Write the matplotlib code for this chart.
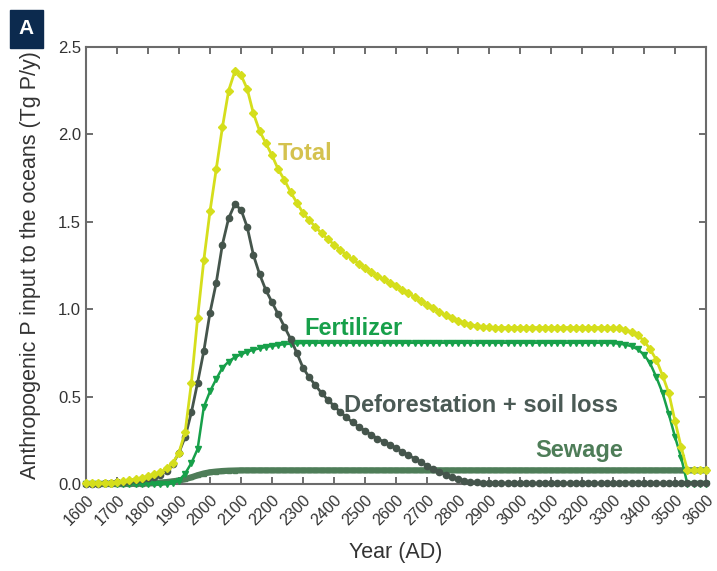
import numpy as np
import matplotlib
matplotlib.use("Agg")
import matplotlib.pyplot as plt
from matplotlib.patches import Rectangle

# ---------------- data (Tg P / y), 20-year steps 1600..3600 ----------------
years = np.arange(1600, 3601, 20)

total = [
    0.005, 0.005, 0.005, 0.006, 0.008, 0.010, 0.015, 0.022, 0.028, 0.035,   # 1600-1780
    0.045, 0.055, 0.068, 0.090, 0.120, 0.180, 0.300, 0.580, 0.950, 1.280,   # 1800-1980
    1.560, 1.800, 2.040, 2.250, 2.360, 2.340, 2.260, 2.120, 2.020, 1.950,   # 2000-2180
    1.880, 1.800, 1.740, 1.670, 1.610, 1.550, 1.510, 1.470, 1.435, 1.400,   # 2200-2380
    1.370, 1.340, 1.310, 1.285, 1.260, 1.235, 1.210, 1.190, 1.170, 1.150,   # 2400-2580
    1.130, 1.110, 1.090, 1.070, 1.045, 1.025, 1.005, 0.985, 0.965, 0.950,   # 2600-2780
    0.935, 0.922, 0.912, 0.905, 0.900, 0.897, 0.895, 0.895, 0.895, 0.895,   # 2800-2980
    0.895, 0.895, 0.895, 0.895, 0.895, 0.895, 0.895, 0.895, 0.895, 0.895,   # 3000-3180
    0.895, 0.895, 0.895, 0.895, 0.895, 0.893, 0.890, 0.882, 0.870, 0.850,   # 3200-3380
    0.820, 0.770, 0.710, 0.620, 0.520, 0.360, 0.210, 0.080, 0.078, 0.078,   # 3400-3580
    0.078,                                                                   # 3600
]

deforestation = [
    0.000, 0.000, 0.002, 0.004, 0.006, 0.010, 0.014, 0.020, 0.025, 0.030,
    0.035, 0.040, 0.050, 0.075, 0.115, 0.180, 0.270, 0.410, 0.580, 0.760,
    0.980, 1.150, 1.370, 1.520, 1.600, 1.570, 1.470, 1.310, 1.200, 1.110,
    1.040, 0.970, 0.900, 0.830, 0.750, 0.665, 0.610, 0.565, 0.520, 0.482,
    0.447, 0.412, 0.382, 0.352, 0.327, 0.305, 0.282, 0.260, 0.242, 0.225,
    0.205, 0.185, 0.165, 0.145, 0.125, 0.105, 0.085, 0.068, 0.052, 0.038,
    0.027, 0.019, 0.013, 0.009, 0.007, 0.005, 0.005, 0.005, 0.004, 0.004,
    0.004, 0.004, 0.004, 0.004, 0.004, 0.004, 0.004, 0.004, 0.004, 0.004,
    0.004, 0.004, 0.004, 0.004, 0.004, 0.004, 0.004, 0.004, 0.004, 0.004,
    0.004, 0.004, 0.004, 0.004, 0.004, 0.004, 0.004, 0.004, 0.004, 0.004,
    0.004,
]

fertilizer = [
    0.000, 0.000, 0.000, 0.000, 0.000, 0.000, 0.000, 0.000, 0.000, 0.000,
    0.000, 0.000, 0.000, 0.000, 0.005, 0.020, 0.060, 0.120, 0.200, 0.440,
    0.530, 0.600, 0.665, 0.700, 0.725, 0.742, 0.756, 0.768, 0.776, 0.784,
    0.790, 0.795, 0.800, 0.803, 0.805, 0.807, 0.808, 0.808, 0.808, 0.808,
    0.808, 0.808, 0.808, 0.808, 0.808, 0.808, 0.808, 0.808, 0.808, 0.808,
    0.808, 0.808, 0.808, 0.808, 0.808, 0.808, 0.808, 0.808, 0.808, 0.808,
    0.808, 0.808, 0.808, 0.808, 0.808, 0.808, 0.808, 0.808, 0.808, 0.808,
    0.808, 0.808, 0.808, 0.808, 0.808, 0.808, 0.808, 0.808, 0.808, 0.808,
    0.808, 0.808, 0.808, 0.808, 0.808, 0.806, 0.803, 0.797, 0.788, 0.770,
    0.740, 0.690, 0.610, 0.520, 0.400, 0.270, 0.150, 0.000, 0.000, 0.000,
    0.000,
]

sewage = [
    0.000, 0.000, 0.000, 0.000, 0.000, 0.000, 0.000, 0.001, 0.001, 0.002,
    0.003, 0.005, 0.008, 0.011, 0.015, 0.020, 0.028, 0.038, 0.050, 0.060,
    0.067, 0.071, 0.074, 0.076, 0.077, 0.078, 0.078, 0.078, 0.078, 0.078,
    0.078, 0.078, 0.078, 0.078, 0.078, 0.078, 0.078, 0.078, 0.078, 0.078,
    0.078, 0.078, 0.078, 0.078, 0.078, 0.078, 0.078, 0.078, 0.078, 0.078,
    0.078, 0.078, 0.078, 0.078, 0.078, 0.078, 0.078, 0.078, 0.078, 0.078,
    0.078, 0.078, 0.078, 0.078, 0.078, 0.078, 0.078, 0.078, 0.078, 0.078,
    0.078, 0.078, 0.078, 0.078, 0.078, 0.078, 0.078, 0.078, 0.078, 0.078,
    0.078, 0.078, 0.078, 0.078, 0.078, 0.078, 0.078, 0.078, 0.078, 0.078,
    0.078, 0.078, 0.078, 0.078, 0.078, 0.078, 0.078, 0.078, 0.078, 0.078,
    0.078,
]

x_ticks = list(range(1600, 3601, 100))
y_ticks = [0.0, 0.5, 1.0, 1.5, 2.0, 2.5]

# ---------------- styling ----------------
plt.rcParams['font.family'] = ['Liberation Sans', 'DejaVu Sans']

c_total = '#d5de1c'
c_def = '#45554c'
c_fert = '#17a04a'
c_sew = '#4e7d58'

W, H = 717, 571
fig = plt.figure(figsize=(W / 100, H / 100), dpi=100)
ax = fig.add_axes([86 / W, 1 - 484 / H, (706 - 86) / W, (484 - 47) / H])

ax.plot(years, sewage, color=c_sew, lw=4.5, marker='s', ms=3.5, zorder=2, clip_on=False)
ax.plot(years, fertilizer, color=c_fert, lw=1.8, marker='v', ms=4.5, zorder=3, clip_on=False)
ax.plot(years, deforestation, color=c_def, lw=2, marker='o', ms=4.5, zorder=4, clip_on=False)
ax.plot(years, total, color=c_total, lw=2, marker='D', ms=4, zorder=5, clip_on=False)

ax.set_xlim(1600, 3600)
ax.set_ylim(0, 2.5)
ax.set_xticks(x_ticks)
ax.set_xticklabels([str(t) for t in x_ticks], rotation=45, ha='right',
                   rotation_mode='anchor')
ax.set_yticks(y_ticks)
ax.set_yticklabels([f'{v:.1f}' for v in y_ticks])

for s in ax.spines.values():
    s.set_color('#6b6b6b')
    s.set_linewidth(1.5)
ax.tick_params(direction='in', length=5, width=1.2, color='#555555',
               top=True, right=True, labelcolor='#333333', labelsize=12)
ax.tick_params(axis='x', pad=6, labelsize=11.5)

ax.set_xlabel('Year (AD)', fontsize=15.5, color='#333333', labelpad=10)
ax.set_ylabel('Anthropogenic P input to the oceans (Tg P/y)', fontsize=15.5,
              color='#333333', labelpad=12)

lab_kw = dict(fontsize=17, fontweight='bold', ha='left', va='center')
ax.text(2220, 1.89, 'Total', color='#d4c24f', **lab_kw)
ax.text(2304, 0.89, 'Fertilizer', color=c_fert, **lab_kw)
ax.text(2433, 0.45, 'Deforestation + soil loss', color='#4b5a55', **lab_kw)
ax.text(3050, 0.19, 'Sewage', color=c_sew, **lab_kw)

# panel label
fig.patches.append(Rectangle((10 / W, 1 - 48 / H), 33 / W, 38 / H,
                             transform=fig.transFigure, color='#0c2a4e'))
fig.text(26.5 / W, 1 - 29 / H, 'A', color='white', fontsize=15,
         fontweight='bold', ha='center', va='center')

fig.savefig('out.png', dpi=100)
